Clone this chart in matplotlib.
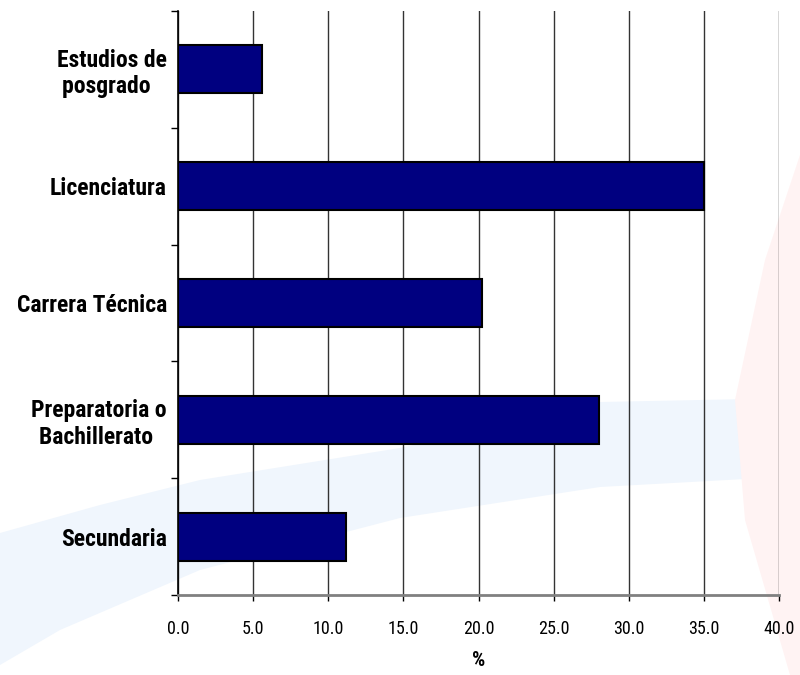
import matplotlib
matplotlib.use("Agg")
import matplotlib.pyplot as plt
from matplotlib import font_manager
from matplotlib.patches import Polygon
from matplotlib.ticker import FixedLocator

# datos (de abajo hacia arriba)
categorias = ["Secundaria", "Preparatoria o\nBachillerato ", "Carrera Técnica",
              "Licenciatura", "Estudios de\nposgrado  "]
porcentajes = [11.2, 28.0, 20.2, 35.0, 5.6]
x_ticks = [0, 5, 10, 15, 20, 25, 30, 35, 40]
x_labels = ["0.0", "5.0", "10.0", "15.0", "20.0", "25.0", "30.0", "35.0", "40.0"]

# buscar una fuente estrecha con negrita (el original usa Arial comprimida)
fuentes = font_manager.fontManager.ttflist
con_negrita = {f.name for f in fuentes
               if f.weight in ("bold", "semibold") or
               (isinstance(f.weight, int) and f.weight >= 600)}
preferidas = ["Liberation Sans Narrow", "Arial Narrow", "Roboto Condensed",
              "IBM Plex Sans Condensed", "Fira Sans Condensed"]
elegida = next((p for p in preferidas if p in con_negrita), None)
if elegida:
    fuente = [elegida, "DejaVu Sans"]
    tam_tick, tam_cat, tam_pct = 13, 17, 15
else:
    fuente = ["Liberation Sans", "DejaVu Sans"]
    tam_tick, tam_cat, tam_pct = 12.5, 14.2, 14

fig = plt.figure(figsize=(8, 6.75), dpi=100)

# marca de agua del fondo (franja azul y cuña roja, muy tenues)
pts_azul = [(0, 533), (100, 505), (200, 480), (400, 448), (600, 402), (800, 398),
            (800, 476), (600, 487), (400, 518), (200, 570), (60, 630), (0, 665)]
azul = Polygon([(x / 800, 1 - y / 675) for x, y in pts_azul], closed=True,
               transform=fig.transFigure, facecolor="#f0f6fd", edgecolor="none",
               zorder=-5)
fig.patches.append(azul)
pts_rojo = [(800, 155), (765, 260), (735, 400), (745, 520), (790, 675), (800, 675)]
rojo = Polygon([(x / 800, 1 - y / 675) for x, y in pts_rojo], closed=True,
               transform=fig.transFigure, facecolor="#fff3f3", edgecolor="none",
               zorder=-5)
fig.patches.append(rojo)

ax = fig.add_axes([178/800, 1 - 595/675, 601/800, 584/675])
ax.patch.set_alpha(0)

y = range(len(categorias))
ax.barh(y, porcentajes, height=0.41, color="#000080", edgecolor="black",
        linewidth=1.5, zorder=3)

ax.set_xlim(0, 40)
ax.set_ylim(-0.5, len(categorias) - 0.5)

ax.set_xticks(x_ticks)
ax.set_xticklabels(x_labels, family=fuente, fontsize=tam_tick)
ax.set_yticks(list(y))
ax.set_yticklabels(categorias, family=fuente, fontsize=tam_cat, fontweight="bold",
                   multialignment="center")
ax.yaxis.set_minor_locator(FixedLocator([i - 0.5 for i in range(len(categorias) + 1)]))
ax.tick_params(axis="y", which="major", length=0, pad=8)
ax.tick_params(axis="y", which="minor", length=5, width=1, color="black")
ax.tick_params(axis="x", length=4, width=1, color="black", pad=14)

ax.grid(axis="x", color="#333333", linewidth=1, zorder=1)

for s in ["top", "right"]:
    ax.spines[s].set_visible(False)
ax.spines["left"].set_color("black")
ax.spines["left"].set_linewidth(1.2)
ax.spines["bottom"].set_color("#808080")
ax.spines["bottom"].set_linewidth(2)

ax.set_xlabel("%", family=fuente, fontsize=tam_pct, fontweight="bold", labelpad=9)

plt.savefig("out.png", dpi=100)
